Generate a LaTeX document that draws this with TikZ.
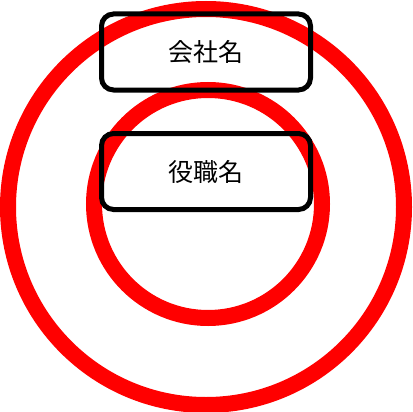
\documentclass[tikz,border=0pt]{standalone}
\usepackage{fontspec}
\newfontfamily\cjk{Noto Sans CJK JP}
\begin{document}
\begin{tikzpicture}[x=1pt,y=-1pt,
  ring/.style={draw=red,line width=16pt},
  labelbox/.style={draw=black,line width=5pt,rounded corners=12pt,minimum width=209pt,minimum height=76pt,inner sep=0pt,font=\cjk\fontsize{25}{30}\selectfont}]
\useasboundingbox (0,0) rectangle (412,412);
\path[ring] (206,207) circle[radius=198];
\path[ring] (208,204) circle[radius=114];
\node[labelbox] (company) at (206,52) {会社名};
\node[labelbox] (title) at (206,171.5) {役職名};
\end{tikzpicture}
\end{document}
